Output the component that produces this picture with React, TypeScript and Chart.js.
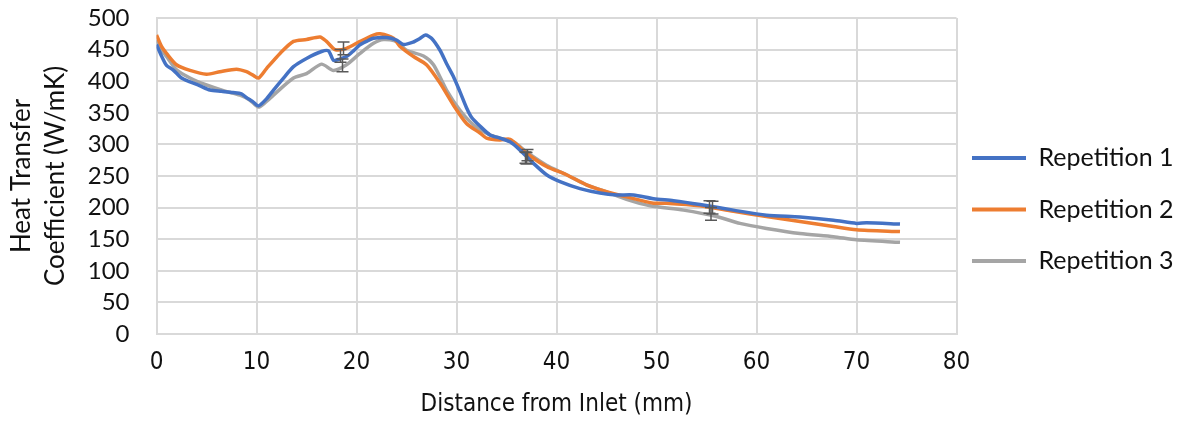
import React, { useEffect, useRef } from "react";
import { Chart, registerables } from "chart.js";

Chart.register(...registerables);

// Repetition 1 (blue)
const rep1X = [0, 0.5, 1, 1.65, 2.5, 3.35, 4.3, 5.35, 6.5, 7.65, 8.5, 9.0, 9.6, 10.2, 11.0, 11.7, 12.7, 13.7, 15.0, 16.5, 17.2, 17.7, 18.3, 19.0, 19.7, 20.3, 21.0, 21.7, 23.0, 24.0, 24.7, 25.7, 26.3, 26.9, 27.5, 28.35, 29.0, 29.7, 30.3, 31.0, 31.5, 32.35, 33.35, 34.35, 35.35, 36.35, 37.7, 39.0, 40.35, 42.35, 44.35, 46.0, 47.7, 49.7, 51.7, 54.35, 57.7, 61.0, 64.35, 67.7, 70.0, 71.0, 74.35];
const rep1Y = [458, 440, 425, 418, 405, 399, 393, 386, 384, 382, 380, 374, 368, 361, 372, 386, 405, 423, 436, 447, 448, 433, 435, 439, 448, 457, 463, 468, 469, 465, 458, 462, 467, 473, 468, 449, 428, 407, 385, 358, 343, 329, 315, 310, 304, 291, 270, 252, 241, 230, 223, 220, 220, 214, 211, 205, 196, 188, 185, 180, 175, 176, 174];

// Repetition 2 (orange)
const rep2X = [0, 0.5, 1.0, 2.0, 3.35, 5.0, 6.35, 8.0, 9.0, 9.6, 10.2, 11.0, 12.35, 13.7, 15.0, 16.35, 17.0, 17.85, 19.0, 20.35, 21.7, 22.35, 23.7, 24.35, 25.7, 27.0, 28.35, 29.7, 31.0, 32.35, 33.0, 34.35, 35.35, 37.0, 39.0, 41.0, 43.0, 45.0, 47.0, 49.7, 51.0, 54.35, 57.7, 61.0, 64.35, 67.7, 70.0, 74.35];
const rep2Y = [473, 455, 444, 426, 417, 411, 415, 419, 415, 410, 405, 420, 444, 463, 466, 470, 463, 450, 452, 463, 473, 475, 468, 455, 439, 426, 397, 362, 333, 318, 310, 307, 308, 286, 265, 252, 236, 225, 217, 207, 207, 203, 194, 186, 178, 170, 165, 162];

// Repetition 3 (grey)
const rep3X = [0, 0.5, 1.0, 2.0, 3.35, 5.0, 6.7, 8.35, 9.35, 10.2, 11.0, 11.7, 13.7, 15.0, 16.5, 17.7, 19.0, 20.35, 21.7, 22.7, 24.0, 25.0, 26.7, 27.7, 29.0, 30.35, 31.7, 33.35, 34.35, 35.7, 37.0, 39.0, 41.0, 43.0, 45.0, 47.0, 49.35, 52.7, 56.0, 58.35, 61.0, 64.35, 67.7, 70.0, 74.35];
const rep3Y = [465, 450, 439, 418, 405, 394, 385, 378, 370, 359, 368, 378, 405, 412, 427, 417, 426, 444, 460, 466, 463, 449, 440, 426, 386, 354, 331, 315, 310, 304, 288, 267, 252, 236, 225, 213, 203, 196, 186, 175, 167, 159, 154, 149, 145];

// Error bars (one per series at each location)
const errX1 = [18.4, 36.9, 55.3];
const errX2 = [18.7, 37.1, 55.6];
const errX3 = [18.6, 37.0, 55.45];
const err1Y = [440, 279, 201];
const err2Y = [452, 283, 200];
const err3Y = [425, 278, 190];
const errSize = [10, 9, 10];

const seriesNames = ["Repetition 1", "Repetition 2", "Repetition 3"];
const seriesColors = ["#4472C4", "#ED7D31", "#A5A5A5"];

const toPoints = (xs: number[], ys: number[]) => xs.map((x, i) => ({ x, y: ys[i] }));

const errorBarPlugin = {
  id: "errorBars",
  afterDatasetsDraw(chart: any) {
    const { ctx, scales } = chart;
    const xs = scales.x;
    const ys = scales.y;
    ctx.save();
    ctx.strokeStyle = "#595959";
    ctx.lineWidth = 1.5;
    const sets: [number[], number[]][] = [[errX1, err1Y], [errX2, err2Y], [errX3, err3Y]];
    sets.forEach(([xArr, yArr]) => {
      yArr.forEach((v, i) => {
        const px = xs.getPixelForValue(xArr[i]);
        const top = ys.getPixelForValue(v + errSize[i]);
        const bot = ys.getPixelForValue(v - errSize[i]);
        const c = 6;
        ctx.beginPath();
        ctx.moveTo(px, top);
        ctx.lineTo(px, bot);
        ctx.moveTo(px - c, top);
        ctx.lineTo(px + c, top);
        ctx.moveTo(px - c, bot);
        ctx.lineTo(px + c, bot);
        ctx.stroke();
      });
    });
    ctx.restore();
  },
};

const legendLayoutPlugin = {
  id: "legendLayout",
  afterInit(chart: any) {
    const lg = chart.legend;
    if (!lg) return;
    const orig = lg.fit;
    lg.fit = function () {
      orig.call(this);
      this.width = 227.5;
    };
  },
  afterLayout(chart: any) {
    const lg = chart.legend;
    if (!lg) return;
    lg.left -= 11;
    lg.right -= 11;
    lg.top -= 10;
    lg.bottom -= 10;
  },
};

export default function App() {
  const ref = useRef<HTMLCanvasElement>(null);
  useEffect(() => {
    if (!ref.current) return;
    const font = "Lato";
    const narrow = "'Liberation Sans Narrow', 'DejaVu Sans Condensed', sans-serif";
    const chart = new Chart(ref.current, {
      type: "line",
      data: {
        datasets: [
          { label: seriesNames[0], data: toPoints(rep1X, rep1Y), borderColor: seriesColors[0], backgroundColor: seriesColors[0] },
          { label: seriesNames[1], data: toPoints(rep2X, rep2Y), borderColor: seriesColors[1], backgroundColor: seriesColors[1] },
          { label: seriesNames[2], data: toPoints(rep3X, rep3Y), borderColor: seriesColors[2], backgroundColor: seriesColors[2] },
        ].map((d) => ({ ...d, borderWidth: 3.5, pointRadius: 0, tension: 0.25, fill: false })),
      },
      options: {
        animation: false,
        responsive: true,
        maintainAspectRatio: false,
        layout: { padding: { left: 0, right: 0, top: 18, bottom: 0 } },
        plugins: {
          tooltip: { enabled: false },
          legend: {
            position: "right",
            labels: {
              boxWidth: 54,
              boxHeight: 4,
              padding: 26.5,
              color: "#111",
              font: { family: font, size: 25 },
              generateLabels: (c: any) =>
                (Chart.defaults.plugins.legend.labels as any).generateLabels(c).map((l: any) => ({ ...l, lineWidth: 0 })),
            },
          },
        },
        scales: {
          x: {
            type: "linear",
            min: 0,
            max: 80,
            afterFit: (s: any) => { s.height = 87; s.paddingLeft = 0; s.paddingRight = 0; },
            ticks: { stepSize: 10, autoSkip: false, maxRotation: 0, padding: 14, color: "#111", font: { family: narrow, size: 24 } },
            grid: { color: "#D9D9D9", lineWidth: 2, drawTicks: false },
            border: { color: "#D9D9D9", width: 2 },
            title: { display: true, text: "Distance from Inlet (mm)", color: "#111", font: { family: narrow, size: 24 }, padding: { top: 0, bottom: 2 } },
          },
          y: {
            min: 0,
            max: 500,
            afterFit: (s: any) => { s.width = 156.5; s.paddingTop = 0; s.paddingBottom = 0; },
            ticks: { stepSize: 50, autoSkip: false, padding: 27, color: "#111", font: { family: font, size: 24 } },
            grid: { color: "#D9D9D9", lineWidth: 2, drawTicks: false },
            border: { color: "#D9D9D9", width: 2 },
            title: { display: true, text: ["Heat Transfer", "Coefficient (W/mK)"], color: "#111", font: { family: font, size: 26, lineHeight: 1.3 }, padding: { top: 5, bottom: 0 } },
          },
        },
      },
      plugins: [errorBarPlugin, legendLayoutPlugin],
    });
    return () => chart.destroy();
  }, []);
  return (
    <div style={{ position: "absolute", left: 0, top: 0, width: 1184, height: 421 }}>
      <canvas ref={ref} />
    </div>
  );
}
